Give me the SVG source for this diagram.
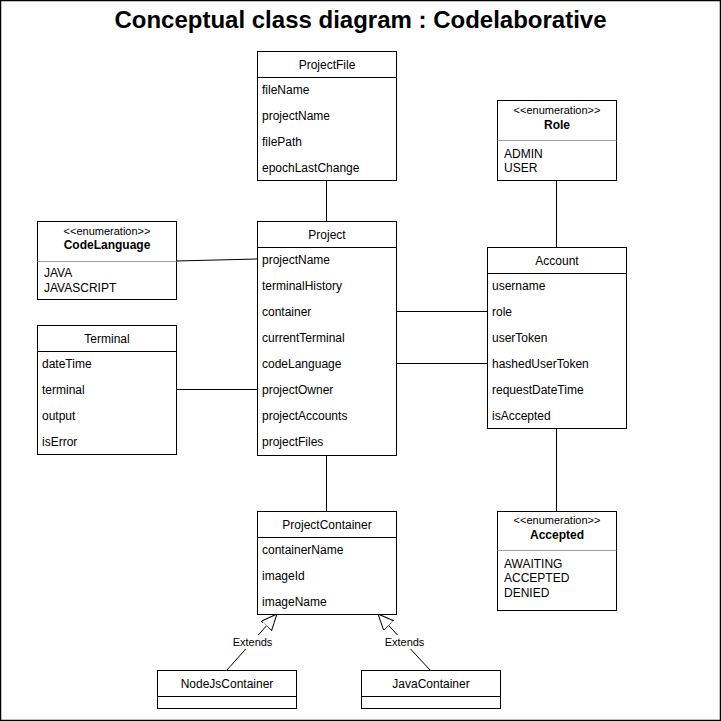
<svg xmlns="http://www.w3.org/2000/svg" width="721" height="721" viewBox="0 0 721 721">
<style>
text{font-family:"Liberation Sans",Arial,Helvetica,sans-serif;fill:#000}
.box{fill:#fff;stroke:#000;stroke-width:1}
.ln{stroke:#000;stroke-width:1;fill:none}
.div{stroke:#a0a0a0;stroke-width:1}
.t{font-size:12px;text-anchor:middle}
.a{font-size:12px}
.st{font-size:11px;text-anchor:middle}
.b{font-size:12px;font-weight:bold;text-anchor:middle}
.lbl{font-size:11px;text-anchor:middle}
</style>
<defs>
<marker id="tri" markerUnits="userSpaceOnUse" markerWidth="18" markerHeight="16" refX="16" refY="7" orient="auto">
<path d="M0,0 L16,7 L0,14 Z" fill="#fff" stroke="#000" stroke-width="1"/>
</marker>
</defs>
<rect x="0.5" y="0.5" width="720" height="720" fill="#fff" stroke="#000" stroke-width="1.5"/>
<text x="360.5" y="28" font-size="24" font-weight="bold" text-anchor="middle">Conceptual class diagram : Codelaborative</text>

<g id="connectors">
<line class="ln" x1="326.5" y1="180" x2="326.5" y2="221"/>
<line class="ln" x1="176" y1="261" x2="257" y2="259"/>
<line class="ln" x1="176" y1="389.5" x2="257" y2="389.5"/>
<line class="ln" x1="396" y1="311.5" x2="487" y2="311.5"/>
<line class="ln" x1="396" y1="363.5" x2="487" y2="363.5"/>
<line class="ln" x1="556.5" y1="180" x2="556.5" y2="247"/>
<line class="ln" x1="556.5" y1="428" x2="556.5" y2="511"/>
<line class="ln" x1="326.5" y1="455" x2="326.5" y2="511"/>
<line class="ln" x1="227" y1="670" x2="277" y2="614" marker-end="url(#tri)"/>
<line class="ln" x1="430" y1="670" x2="378" y2="614" marker-end="url(#tri)"/>
<rect x="231" y="635" width="43" height="14" fill="#fff"/>
<text class="lbl" x="252.5" y="646">Extends</text>
<rect x="383" y="635" width="43" height="14" fill="#fff"/>
<text class="lbl" x="404.5" y="646">Extends</text>
</g>

<g id="ProjectFile">
<rect class="box" x="257.5" y="51.5" width="139" height="129"/>
<line class="ln" x1="257.5" y1="77.5" x2="396.5" y2="77.5"/>
<text class="t" x="327" y="69">ProjectFile</text>
<text class="a" x="262" y="94">fileName</text>
<text class="a" x="262" y="120">projectName</text>
<text class="a" x="262" y="146">filePath</text>
<text class="a" x="262" y="172">epochLastChange</text>
</g>

<g id="Role">
<rect class="box" x="497.5" y="100.5" width="119" height="80"/>
<text class="st" x="557" y="114">&lt;&lt;enumeration&gt;&gt;</text>
<text class="b" x="557" y="129">Role</text>
<line class="div" x1="497.5" y1="140.5" x2="616.5" y2="140.5"/>
<text class="a" x="504" y="158">ADMIN</text>
<text class="a" x="504" y="172">USER</text>
</g>

<g id="CodeLanguage">
<rect class="box" x="37.5" y="221.5" width="139" height="78"/>
<text class="st" x="107" y="235">&lt;&lt;enumeration&gt;&gt;</text>
<text class="b" x="107" y="249">CodeLanguage</text>
<line class="div" x1="37.5" y1="261.5" x2="176.5" y2="261.5"/>
<text class="a" x="44" y="277">JAVA</text>
<text class="a" x="44" y="292">JAVASCRIPT</text>
</g>

<g id="Project">
<rect class="box" x="257.5" y="221.5" width="139" height="234"/>
<line class="ln" x1="257.5" y1="247.5" x2="396.5" y2="247.5"/>
<text class="t" x="327" y="239">Project</text>
<text class="a" x="262" y="264">projectName</text>
<text class="a" x="262" y="290">terminalHistory</text>
<text class="a" x="262" y="316">container</text>
<text class="a" x="262" y="342">currentTerminal</text>
<text class="a" x="262" y="368">codeLanguage</text>
<text class="a" x="262" y="394">projectOwner</text>
<text class="a" x="262" y="420">projectAccounts</text>
<text class="a" x="262" y="446">projectFiles</text>
</g>

<g id="Terminal">
<rect class="box" x="37.5" y="325.5" width="139" height="129"/>
<line class="ln" x1="37.5" y1="351.5" x2="176.5" y2="351.5"/>
<text class="t" x="107" y="343">Terminal</text>
<text class="a" x="42" y="368">dateTime</text>
<text class="a" x="42" y="394">terminal</text>
<text class="a" x="42" y="420">output</text>
<text class="a" x="42" y="446">isError</text>
</g>

<g id="Account">
<rect class="box" x="487.5" y="247.5" width="139" height="181"/>
<line class="ln" x1="487.5" y1="273.5" x2="626.5" y2="273.5"/>
<text class="t" x="557" y="265">Account</text>
<text class="a" x="492" y="290">username</text>
<text class="a" x="492" y="316">role</text>
<text class="a" x="492" y="342">userToken</text>
<text class="a" x="492" y="368">hashedUserToken</text>
<text class="a" x="492" y="394">requestDateTime</text>
<text class="a" x="492" y="420">isAccepted</text>
</g>

<g id="Accepted">
<rect class="box" x="497.5" y="511.5" width="119" height="99"/>
<text class="st" x="557" y="524">&lt;&lt;enumeration&gt;&gt;</text>
<text class="b" x="557" y="539">Accepted</text>
<line class="div" x1="497.5" y1="550.5" x2="616.5" y2="550.5"/>
<text class="a" x="504" y="568">AWAITING</text>
<text class="a" x="504" y="582">ACCEPTED</text>
<text class="a" x="504" y="597">DENIED</text>
</g>

<g id="ProjectContainer">
<rect class="box" x="257.5" y="511.5" width="139" height="103"/>
<line class="ln" x1="257.5" y1="537.5" x2="396.5" y2="537.5"/>
<text class="t" x="327" y="529">ProjectContainer</text>
<text class="a" x="262" y="554">containerName</text>
<text class="a" x="262" y="580">imageId</text>
<text class="a" x="262" y="606">imageName</text>
</g>

<g id="NodeJsContainer">
<rect class="box" x="157.5" y="670.5" width="139" height="38"/>
<line class="ln" x1="157.5" y1="696.5" x2="296.5" y2="696.5"/>
<text class="t" x="227" y="688">NodeJsContainer</text>
</g>

<g id="JavaContainer">
<rect class="box" x="361.5" y="670.5" width="139" height="38"/>
<line class="ln" x1="361.5" y1="696.5" x2="500.5" y2="696.5"/>
<text class="t" x="431" y="688">JavaContainer</text>
</g>
</svg>
